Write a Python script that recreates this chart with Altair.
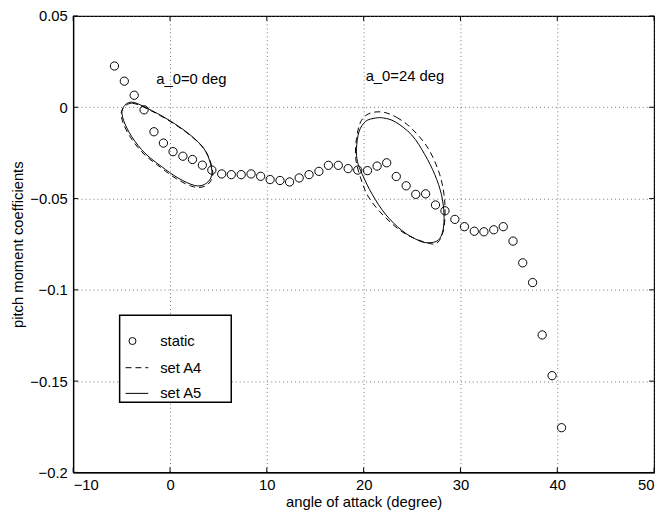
import altair as alt
import pandas as pd

# static data points (angle of attack, pitch moment coefficient)
static_x = [-5.74, -4.72, -3.70, -2.68, -1.66, -0.68, 0.31, 1.33, 2.32, 3.34,
            4.32, 5.34, 6.33, 7.35, 8.37, 9.36, 10.34, 11.36, 12.35, 13.34,
            14.36, 15.38, 16.36, 17.38, 18.40, 19.39, 20.40, 21.39, 22.38, 23.37,
            24.39, 25.38, 26.40, 27.42, 28.40, 29.42, 30.41, 31.43, 32.42, 33.44,
            34.42, 35.43, 36.43, 37.45, 38.44, 39.46, 40.44]
static_y = [0.0226, 0.0143, 0.0066, -0.0014, -0.0134, -0.0196, -0.0243, -0.0268, -0.0286, -0.0317,
            -0.0344, -0.0365, -0.0369, -0.0369, -0.0365, -0.0378, -0.0396, -0.0401, -0.0409, -0.0387,
            -0.0369, -0.0351, -0.0318, -0.0318, -0.0336, -0.0344, -0.0347, -0.0322, -0.0304, -0.0379,
            -0.0430, -0.0477, -0.0474, -0.0535, -0.0567, -0.0614, -0.0654, -0.0679, -0.0682, -0.0671,
            -0.0654, -0.0733, -0.0852, -0.0960, -0.1247, -0.1470, -0.1755]

# set A5 (solid) loops
a5_loop1_x = [-4.90, -3.95, -1.91, 0.48, 2.52, 3.70, 4.29, 4.21, 3.54, 2.52, 0.82, -0.89, -2.58, -3.95, -4.80]
a5_loop1_y = [-0.0008, 0.0028, -0.0017, -0.0090, -0.0171, -0.0243, -0.0333, -0.0387, -0.0423, -0.0428,
              -0.0387, -0.0324, -0.0252, -0.0161, -0.0071]
a5_loop2_x = [21.22, 20.20, 19.52, 19.26, 19.36, 19.87, 20.89, 22.24, 23.95, 25.64, 26.66, 27.68,
              28.19, 28.30, 28.03, 27.35, 26.33, 24.97, 23.27, 22.07]
a5_loop2_y = [-0.0059, -0.0077, -0.0134, -0.0225, -0.0297, -0.0369, -0.0477, -0.0585, -0.0675, -0.0729,
              -0.0742, -0.0729, -0.0675, -0.0585, -0.0477, -0.0369, -0.0260, -0.0152, -0.0080, -0.0059]

# set A4 (dashed) loops
a4_loop1_x = [-4.95, -3.90, -1.85, 0.55, 2.60, 3.78, 4.38, 4.30, 3.60, 2.45, 0.70, -1.00, -2.70, -4.05, -4.90]
a4_loop1_y = [-0.0015, 0.0022, -0.0022, -0.0095, -0.0177, -0.0250, -0.0340, -0.0395, -0.0432, -0.0436,
              -0.0393, -0.0328, -0.0256, -0.0167, -0.0078]
a4_loop2_x = [21.91, 23.40, 24.97, 26.66, 27.86, 28.37, 28.30, 27.68, 26.66, 24.29, 22.24, 20.54,
              19.69, 19.18, 19.26, 19.69, 20.54]
a4_loop2_y = [-0.0026, -0.0055, -0.0117, -0.0225, -0.0369, -0.0513, -0.0657, -0.0739, -0.0744, -0.0693,
              -0.0603, -0.0495, -0.0387, -0.0279, -0.0171, -0.0080, -0.0035]

x_ticks = [-10, 0, 10, 20, 30, 40, 50]
y_ticks = [-0.2, -0.15, -0.1, -0.05, 0, 0.05]

FONT = "Liberation Sans"
FS = 15
W, H = 588, 462
TK = 5  # inward tick length

static_df = pd.DataFrame({"x": static_x, "y": static_y})

rows = []
for name, xs, ys in [("A5_1", a5_loop1_x, a5_loop1_y), ("A5_2", a5_loop2_x, a5_loop2_y),
                     ("A4_1", a4_loop1_x, a4_loop1_y), ("A4_2", a4_loop2_x, a4_loop2_y)]:
    for i, (xv, yv) in enumerate(zip(xs, ys)):
        rows.append({"x": xv, "y": yv, "loop": name, "i": i})
loops_df = pd.DataFrame(rows)

xscale = alt.Scale(domain=[-10, 50], nice=False, zero=False)
yscale = alt.Scale(domain=[-0.2, 0.05], nice=False, zero=False)

xaxis = alt.Axis(values=x_ticks, title="angle of attack (degree)", grid=True, ticks=False,
                 labelPadding=5, titlePadding=3, format="~g")
yaxis = alt.Axis(values=y_ticks, title="pitch moment coefficients", grid=True, ticks=False,
                 labelPadding=6, titlePadding=4, format="~g")

pts = alt.Chart(static_df).mark_point(shape="circle", filled=False, color="black",
                                      size=70, strokeWidth=1, opacity=1).encode(
    x=alt.X("x:Q", scale=xscale, axis=xaxis),
    y=alt.Y("y:Q", scale=yscale, axis=yaxis),
)

a5 = alt.Chart(loops_df).transform_filter(
    alt.FieldOneOfPredicate(field="loop", oneOf=["A5_1", "A5_2"])
).mark_line(color="black", strokeWidth=1, interpolate="cardinal-closed").encode(
    x=alt.X("x:Q", scale=xscale), y=alt.Y("y:Q", scale=yscale),
    detail="loop:N", order="i:Q")

a4 = alt.Chart(loops_df).transform_filter(
    alt.FieldOneOfPredicate(field="loop", oneOf=["A4_1", "A4_2"])
).mark_line(color="black", strokeWidth=1, strokeDash=[6, 4], interpolate="cardinal-closed").encode(
    x=alt.X("x:Q", scale=xscale), y=alt.Y("y:Q", scale=yscale),
    detail="loop:N", order="i:Q")

# inward ticks on all four sides
xt_df = pd.DataFrame({"x": x_ticks})
yt_df = pd.DataFrame({"y": y_ticks})
xt_bot = alt.Chart(xt_df).mark_rule(color="black", strokeWidth=1).encode(
    x=alt.X("x:Q", scale=xscale), y=alt.value(H), y2=alt.value(H - TK))
xt_top = alt.Chart(xt_df).mark_rule(color="black", strokeWidth=1).encode(
    x=alt.X("x:Q", scale=xscale), y=alt.value(0), y2=alt.value(TK))
yt_left = alt.Chart(yt_df).mark_rule(color="black", strokeWidth=1).encode(
    y=alt.Y("y:Q", scale=yscale), x=alt.value(0), x2=alt.value(TK))
yt_right = alt.Chart(yt_df).mark_rule(color="black", strokeWidth=1).encode(
    y=alt.Y("y:Q", scale=yscale), x=alt.value(W), x2=alt.value(W - TK))

ann_df = pd.DataFrame({"label": ["a_0=0 deg", "a_0=24 deg"]})
ann1 = alt.Chart(ann_df).transform_filter(alt.datum.label == "a_0=0 deg").mark_text(
    align="left", baseline="middle", font=FONT, fontSize=FS, color="black").encode(
    x=alt.value(84), y=alt.value(64), text="label:N")
ann2 = alt.Chart(ann_df).transform_filter(alt.datum.label == "a_0=24 deg").mark_text(
    align="left", baseline="middle", font=FONT, fontSize=FS, color="black").encode(
    x=alt.value(296), y=alt.value(61), text="label:N")

# legend box
leg_box = alt.Chart(ann_df).transform_filter(alt.datum.label == "a_0=0 deg").mark_rect(
    fill="white", stroke="black", strokeWidth=1.5).encode(
    x=alt.value(47), x2=alt.value(160), y=alt.value(303), y2=alt.value(391))
leg_pt = alt.Chart(ann_df).transform_filter(alt.datum.label == "a_0=0 deg").mark_point(
    shape="circle", filled=False, color="black", size=50, strokeWidth=1, opacity=1).encode(
    x=alt.value(60), y=alt.value(329))
leg_dash = alt.Chart(ann_df).transform_filter(alt.datum.label == "a_0=0 deg").mark_rule(
    color="black", strokeWidth=1, strokeDash=[6, 4]).encode(
    x=alt.value(53), x2=alt.value(76), y=alt.value(356))
leg_solid = alt.Chart(ann_df).transform_filter(alt.datum.label == "a_0=0 deg").mark_rule(
    color="black", strokeWidth=1).encode(
    x=alt.value(53), x2=alt.value(76), y=alt.value(382))
leg_df = pd.DataFrame({"t": ["static", "set A4", "set A5"], "py": [329, 356, 382]})
leg_txt = alt.Chart(leg_df).mark_text(align="left", baseline="middle", font=FONT,
                                      fontSize=FS, color="black").encode(
    x=alt.value(88), y=alt.Y("py:Q", scale=None), text="t:N")

chart = alt.layer(pts, a5, a4, xt_bot, xt_top, yt_left, yt_right,
                  ann1, ann2, leg_box, leg_pt, leg_dash, leg_solid, leg_txt).properties(
    width=W, height=H,
    padding={"left": 66, "top": 5, "right": 8, "bottom": 40},
    autosize=alt.AutoSizeParams(type="none"),
).configure_view(stroke="black", strokeWidth=1.2).configure_axis(
    labelFont=FONT, titleFont=FONT, labelFontSize=FS, titleFontSize=FS,
    labelColor="black", titleColor="black", titleFontWeight="normal",
    domainColor="black", domainWidth=1.2,
    gridColor="#555555", gridDash=[1, 3], gridWidth=1, gridOpacity=0.8,
)

chart.save("out.html", embed_options={"renderer": "svg", "actions": False})
